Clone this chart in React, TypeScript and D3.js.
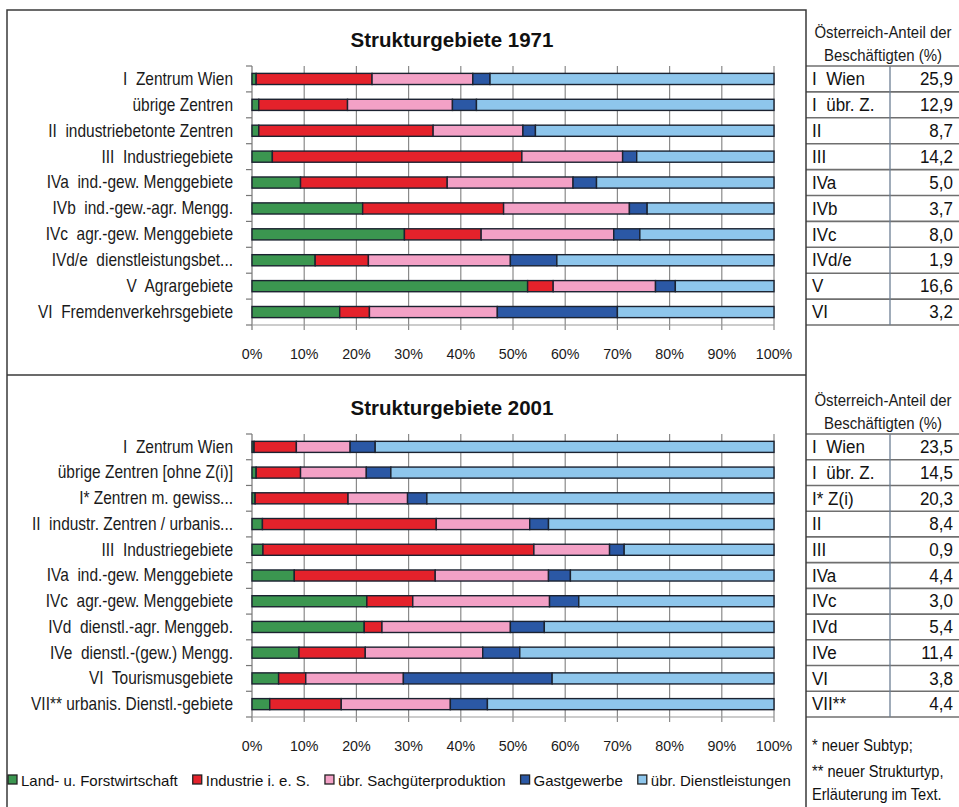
import React, { useEffect, useRef } from "react";
import * as d3 from "d3";

// sectors (stack order, left to right)
const sectors = ["Land- u. Forstwirtschaft", "Industrie i. e. S.", "übr. Sachgüterproduktion", "Gastgewerbe", "übr. Dienstleistungen"];
const sectorColors = ["#3b9650", "#e4222b", "#f3a1c6", "#2b58a5", "#8ec6ec"];

const regions1971 = [
  "I  Zentrum Wien",
  "übrige Zentren",
  "II  industriebetonte Zentren",
  "III  Industriegebiete",
  "IVa  ind.-gew. Menggebiete",
  "IVb  ind.-gew.-agr. Mengg.",
  "IVc  agr.-gew. Menggebiete",
  "IVd/e  dienstleistungsbet...",
  "V  Agrargebiete",
  "VI  Fremdenverkehrsgebiete",
];
const agri1971 = [0.8, 1.3, 1.3, 3.9, 9.3, 21.2, 29.2, 12.1, 52.8, 16.8];
const industry1971 = [22.2, 17.0, 33.4, 47.8, 28.1, 27.0, 14.7, 10.2, 4.9, 5.7];
const goods1971 = [19.3, 20.1, 17.2, 19.3, 24.1, 24.1, 25.4, 27.2, 19.6, 24.5];
const hospitality1971 = [3.3, 4.6, 2.4, 2.7, 4.5, 3.4, 5.0, 8.9, 3.8, 23.0];
const services1971 = [54.4, 57.0, 45.7, 26.3, 34.0, 24.3, 25.7, 41.6, 18.9, 30.0];

const regions2001 = [
  "I  Zentrum Wien",
  "übrige Zentren [ohne Z(i)]",
  "I* Zentren m. gewiss...",
  "II  industr. Zentren / urbanis...",
  "III  Industriegebiete",
  "IVa  ind.-gew. Menggebiete",
  "IVc  agr.-gew. Menggebiete",
  "IVd  dienstl.-agr. Menggeb.",
  "IVe  dienstl.-(gew.) Mengg.",
  "VI  Tourismusgebiete",
  "VII** urbanis. Dienstl.-gebiete",
];
const agri2001 = [0.4, 0.8, 0.6, 2.0, 2.1, 8.1, 22.0, 21.5, 9.0, 5.1, 3.4];
const industry2001 = [8.1, 8.5, 17.8, 33.3, 51.9, 27.0, 8.8, 3.4, 12.7, 5.2, 13.7];
const goods2001 = [10.3, 12.6, 11.4, 17.9, 14.5, 21.7, 26.2, 24.6, 22.5, 18.7, 20.9];
const hospitality2001 = [4.8, 4.7, 3.7, 3.6, 2.8, 4.2, 5.6, 6.5, 7.1, 28.5, 7.1];
const services2001 = [76.4, 73.4, 66.5, 43.2, 28.7, 39.0, 37.4, 44.0, 48.7, 42.5, 54.9];

// Österreich-Anteil der Beschäftigten (%)
const shareNames1971 = ["I  Wien", "I  übr. Z.", "II", "III", "IVa", "IVb", "IVc", "IVd/e", "V", "VI"];
const shareValues1971 = [25.9, 12.9, 8.7, 14.2, 5.0, 3.7, 8.0, 1.9, 16.6, 3.2];
const shareNames2001 = ["I  Wien", "I  übr. Z.", "I* Z(i)", "II", "III", "IVa", "IVc", "IVd", "IVe", "VI", "VII**"];
const shareValues2001 = [23.5, 14.5, 20.3, 8.4, 0.9, 4.4, 3.0, 5.4, 11.4, 3.8, 4.4];

const xTicks = [0, 10, 20, 30, 40, 50, 60, 70, 80, 90, 100];
const footnotes = ["* neuer Subtyp;", "** neuer Strukturtyp,", "Erläuterung im Text."];

const W = 959;
const H = 807;
const FONT = "'Liberation Sans', Arial, sans-serif";

// narrow look: regular font squeezed horizontally around its anchor
const squeeze = (x: number, y: number, sx: number) => `translate(${x},${y}) scale(${sx},1)`;

export default function App() {
  const ref = useRef<SVGSVGElement>(null);

  useEffect(() => {
    document.body.style.margin = "0";
    const svg = d3.select(ref.current);
    svg.selectAll("*").remove();
    svg.append("rect").attr("width", W).attr("height", H).attr("fill", "#fff");

    const x = d3.scaleLinear().domain([0, 100]).range([252, 774]);
    const color = d3.scaleOrdinal<string, string>().domain(sectors).range(sectorColors);
    const deFormat = d3.formatLocale({ decimal: ",", thousands: ".", grouping: [3], currency: ["", " €"] }).format(".1f");
    const tableLeft = 806;
    const tableDiv = 890;

    const drawPanel = (
      title: string, regions: string[], series: number[][],
      top: number, bottom: number,
      shareNames: string[], shareValues: number[]
    ) => {
      const rows = regions.map((r, i) => {
        const o: any = { region: r };
        sectors.forEach((s, k) => (o[s] = series[k][i]));
        return o;
      });
      const stacked = d3.stack().keys(sectors)(rows);
      const y = d3.scaleBand().domain(regions).range([top, bottom]).paddingInner(0.57).paddingOuter(0.285);
      const step = y.step();
      const g = svg.append("g");

      g.append("text")
        .attr("x", 452).attr("y", top - 27)
        .attr("text-anchor", "middle").attr("dominant-baseline", "central")
        .style("font-family", FONT).style("font-weight", "bold").style("font-size", "20.5px")
        .attr("fill", "#111").text(title);

      // vertical gridlines
      g.selectAll(".grid").data(xTicks.slice(1)).join("line")
        .attr("x1", d => x(d)).attr("x2", d => x(d))
        .attr("y1", top).attr("y2", bottom + 5)
        .attr("stroke", "#8a8a8a").attr("stroke-width", 1.2);

      // left axis with ticks at band boundaries
      g.append("line").attr("x1", x(0)).attr("x2", x(0)).attr("y1", top).attr("y2", bottom + 5)
        .attr("stroke", "#777").attr("stroke-width", 1.2);
      g.selectAll(".ytick").data(d3.range(regions.length + 1)).join("line")
        .attr("x1", x(0) - 6).attr("x2", x(0))
        .attr("y1", i => top + i * step).attr("y2", i => top + i * step)
        .attr("stroke", "#777").attr("stroke-width", 1.2);
      g.append("line").attr("x1", x(0)).attr("x2", x(100)).attr("y1", bottom).attr("y2", bottom)
        .attr("stroke", "#999").attr("stroke-width", 1);

      g.selectAll(".ylab").data(regions).join("text")
        .attr("transform", d => squeeze(233, (y(d) as number) + y.bandwidth() / 2, 0.86))
        .attr("text-anchor", "end").attr("dominant-baseline", "central")
        .style("font-family", FONT).style("font-size", "18px").style("white-space", "pre")
        .attr("fill", "#1a1a1a").text(d => d);

      g.selectAll(".xlab").data(xTicks).join("text")
        .attr("transform", d => squeeze(x(d), bottom + 29, 0.92))
        .attr("text-anchor", "middle").attr("dominant-baseline", "central")
        .style("font-family", FONT).style("font-size", "15.5px")
        .attr("fill", "#1a1a1a").text(d => d + "%");

      g.selectAll(".layer").data(stacked).join("g")
        .attr("fill", d => color(d.key))
        .selectAll("rect").data(d => d.map(v => ({ v, region: (v.data as any).region }))).join("rect")
        .attr("x", d => x(d.v[0])).attr("width", d => Math.max(0, x(d.v[1]) - x(d.v[0])))
        .attr("y", d => y(d.region) as number).attr("height", y.bandwidth())
        .attr("stroke", "#1b2230").attr("stroke-width", 1.4);

      // share table to the right
      const t = svg.append("g");
      t.append("text").attr("transform", squeeze(883, top - 34, 0.88))
        .attr("text-anchor", "middle").attr("dominant-baseline", "central")
        .style("font-family", FONT).style("font-size", "17px").attr("fill", "#1a1a1a")
        .text("Österreich-Anteil der");
      t.append("text").attr("transform", squeeze(883, top - 11, 0.88))
        .attr("text-anchor", "middle").attr("dominant-baseline", "central")
        .style("font-family", FONT).style("font-size", "17px").attr("fill", "#1a1a1a")
        .text("Beschäftigten (%)");
      t.selectAll(".hl").data(d3.range(shareNames.length + 1)).join("line")
        .attr("x1", tableLeft).attr("x2", W)
        .attr("y1", i => top + i * step).attr("y2", i => top + i * step)
        .attr("stroke", "#6f6f6f").attr("stroke-width", 1.6);
      t.append("line").attr("x1", tableDiv).attr("x2", tableDiv).attr("y1", top).attr("y2", bottom)
        .attr("stroke", "#6d7f94").attr("stroke-width", 1.3);
      t.selectAll(".sn").data(shareNames).join("text")
        .attr("transform", (_, i) => squeeze(812, top + (i + 0.5) * step, 0.92))
        .attr("dominant-baseline", "central").style("white-space", "pre")
        .style("font-family", FONT).style("font-size", "18.5px").attr("fill", "#111").text(d => d);
      t.selectAll(".sv").data(shareValues).join("text")
        .attr("transform", (_, i) => squeeze(953, top + (i + 0.5) * step, 0.92))
        .attr("text-anchor", "end").attr("dominant-baseline", "central")
        .style("font-family", FONT).style("font-size", "18.5px").attr("fill", "#111").text(d => deFormat(d));
    };

    drawPanel("Strukturgebiete 1971", regions1971,
      [agri1971, industry1971, goods1971, hospitality1971, services1971],
      66, 325, shareNames1971, shareValues1971);
    drawPanel("Strukturgebiete 2001", regions2001,
      [agri2001, industry2001, goods2001, hospitality2001, services2001],
      434, 717, shareNames2001, shareValues2001);

    // frame
    const frame = svg.append("g").attr("stroke", "#3a3a3a").attr("stroke-width", 1.5).attr("fill", "none");
    frame.append("path").attr("d", `M7,${H} V10 H${tableLeft} V${H}`);
    frame.append("line").attr("x1", 7).attr("x2", tableLeft).attr("y1", 375).attr("y2", 375);

    // footnotes
    svg.selectAll(".fn").data(footnotes).join("text")
      .attr("transform", (_, i) => squeeze(812, [745, 771, 794][i], 0.86))
      .attr("dominant-baseline", "central")
      .style("font-family", FONT).style("font-size", "17px").attr("fill", "#111").text(d => d);

    // legend
    const leg = svg.append("g");
    let lx = 8;
    sectors.forEach((s, i) => {
      leg.append("rect").attr("x", lx).attr("y", 775).attr("width", 9).attr("height", 9)
        .attr("fill", sectorColors[i]).attr("stroke", "#222").attr("stroke-width", 1.3);
      const txt = leg.append("text").attr("x", lx + 13).attr("y", 780)
        .attr("dominant-baseline", "central")
        .style("font-family", FONT).style("font-size", "15px").attr("fill", "#111").text(s);
      const w = (txt.node() as SVGTextElement).getComputedTextLength();
      lx += 13 + w + 15;
    });
  }, []);

  return <svg ref={ref} width={W} height={H} style={{ display: "block" }} />;
}
